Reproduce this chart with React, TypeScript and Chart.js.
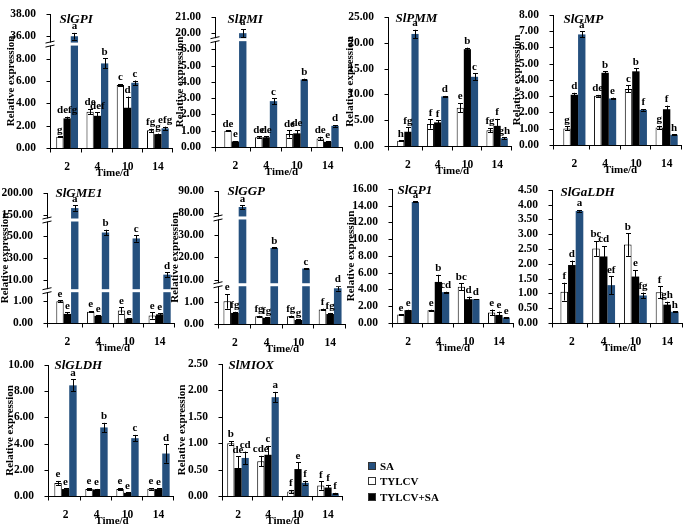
import React, { useEffect, useRef } from "react";
import { Chart, registerables } from "chart.js";
Chart.register(...registerables);

// ---------------- data ----------------
const categories = ["2", "4", "10", "14"];
const seriesLabels = ["TYLCV", "TYLCV+SA", "SA"];
const legendLabels = ["SA", "TYLCV", "TYLCV+SA"];

// SlGPI
const gpiTicks = [[0, 2, 4, 6, 8], [36, 38]];
const gpiTYLCV = [1.0, 3.25, 5.64, 1.58];
const gpiTYLCVSA = [2.65, 2.88, 3.6, 1.24];
const gpiSA = [36.0, 7.57, 5.84, 1.76];
const gpiErrTYLCV = [0.05, 0.25, 0.08, 0.15];
const gpiErrTYLCVSA = [0.15, 0.3, 1.0, 0.05];
const gpiErrSA = [0.3, 0.45, 0.2, 0.15];
const gpiLetTYLCV = ["g", "de", "c", "fg"];
const gpiLetTYLCVSA = ["defg", "def", "d", "g"];
const gpiLetSA = ["a", "b", "c", "efg"];

// SlPMI
const pmiTicks = [[0, 1, 2, 3, 4, 5, 6], [20, 21]];
const pmiTYLCV = [1.0, 0.6, 0.8, 0.53];
const pmiTYLCVSA = [0.34, 0.6, 0.84, 0.32];
const pmiSA = [20.0, 2.82, 4.15, 1.3];
const pmiErrTYLCV = [0.03, 0.05, 0.22, 0.1];
const pmiErrTYLCVSA = [0.02, 0.05, 0.2, 0.02];
const pmiErrSA = [0.25, 0.18, 0.05, 0.05];
const pmiLetTYLCV = ["de", "de", "de", "de"];
const pmiLetTYLCVSA = ["e", "de", "de", "e"];
const pmiLetSA = ["a", "c", "b", "d"];

// SlPMM
const pmmTicks = [[0, 5, 10, 15, 20, 25]];
const pmmTYLCV = [1.0, 4.27, 7.4, 3.06];
const pmmTYLCVSA = [2.76, 4.57, 18.75, 3.9];
const pmmSA = [21.7, 9.6, 13.4, 1.5];
const pmmErrTYLCV = [0.1, 0.9, 0.9, 0.4];
const pmmErrTYLCVSA = [0.85, 0.4, 0.3, 1.35];
const pmmErrSA = [0.8, 0.1, 0.7, 0.2];
const pmmLetTYLCV = ["h", "f", "e", "fg"];
const pmmLetTYLCVSA = ["fg", "f", "b", "f"];
const pmmLetSA = ["a", "d", "c", "gh"];

// SlGMP
const gmpTicks = [[0, 1, 2, 3, 4, 5, 6, 7, 8]];
const gmpTYLCV = [1.02, 3.03, 3.45, 1.08];
const gmpTYLCVSA = [3.09, 4.44, 4.53, 2.2];
const gmpSA = [6.8, 2.86, 2.16, 0.63];
const gmpErrTYLCV = [0.12, 0.05, 0.22, 0.1];
const gmpErrTYLCVSA = [0.12, 0.1, 0.18, 0.22];
const gmpErrSA = [0.18, 0.05, 0.05, 0.02];
const gmpLetTYLCV = ["g", "de", "c", "g"];
const gmpLetTYLCVSA = ["d", "b", "b", "f"];
const gmpLetSA = ["a", "e", "f", "h"];

// SlGME1
const gmeTicks = [[0, 1], [10, 30, 50], [150, 200]];
const gmeTYLCV = [1.0, 0.52, 0.58, 0.35];
const gmeTYLCVSA = [0.42, 0.33, 0.2, 0.4];
const gmeSA = [165, 53.5, 48, 14.6];
const gmeErrTYLCV = [0.05, 0.03, 0.15, 0.15];
const gmeErrTYLCVSA = [0.08, 0.03, 0.02, 0.04];
const gmeErrSA = [6, 2.5, 3, 2];
const gmeLetTYLCV = ["e", "e", "e", "e"];
const gmeLetTYLCVSA = ["e", "e", "e", "e"];
const gmeLetSA = ["a", "b", "c", "d"];

// SlGGP
const ggpTicks = [[0, 1], [10, 20, 30], [80, 90]];
const ggpTYLCV = [1.02, 0.35, 0.35, 0.65];
const ggpTYLCVSA = [0.5, 0.28, 0.18, 0.45];
const ggpSA = [82.7, 24.3, 15.0, 1.61];
const ggpErrTYLCV = [0.33, 0.02, 0.03, 0.04];
const ggpErrTYLCVSA = [0.05, 0.02, 0.03, 0.05];
const ggpErrSA = [0.8, 0.2, 0.1, 0.1];
const ggpLetTYLCV = ["e", "fg", "fg", "f"];
const ggpLetTYLCVSA = ["fg", "fg", "g", "fg"];
const ggpLetSA = ["a", "b", "c", "d"];

// SlGP1
const gp1Ticks = [[0, 2, 4, 6, 8, 10, 12, 14, 16]];
const gp1TYLCV = [1.0, 1.53, 4.33, 1.26];
const gp1TYLCVSA = [1.53, 4.9, 2.84, 0.96];
const gp1SA = [14.45, 3.68, 2.84, 0.65];
const gp1ErrTYLCV = [0.05, 0.05, 0.4, 0.35];
const gp1ErrTYLCVSA = [0.05, 0.85, 0.3, 0.4];
const gp1ErrSA = [0.05, 0.05, 0.02, 0.03];
const gp1LetTYLCV = ["e", "e", "bc", "e"];
const gp1LetTYLCVSA = ["e", "b", "d", "e"];
const gp1LetSA = ["a", "cd", "d", "e"];

// SlGaLDH
const galTicks = [[0, 0.5, 1, 1.5, 2, 2.5, 3, 3.5, 4, 4.5]];
const galTYLCV = [1.06, 2.52, 2.65, 1.04];
const galTYLCVSA = [1.96, 2.25, 1.57, 0.62];
const galSA = [3.79, 1.28, 0.93, 0.38];
const galErrTYLCV = [0.3, 0.25, 0.38, 0.2];
const galErrTYLCVSA = [0.15, 0.35, 0.22, 0.1];
const galErrSA = [0.03, 0.3, 0.1, 0.02];
const galLetTYLCV = ["f", "bc", "b", "f"];
const galLetTYLCVSA = ["d", "cd", "e", "gh"];
const galLetSA = ["a", "ef", "fg", "h"];

// SlGLDH
const gldTicks = [[0, 2, 4, 6, 8, 10]];
const gldTYLCV = [1.0, 0.53, 0.53, 0.55];
const gldTYLCVSA = [0.53, 0.5, 0.24, 0.53];
const gldSA = [8.44, 5.23, 4.41, 3.24];
const gldErrTYLCV = [0.15, 0.08, 0.08, 0.06];
const gldErrTYLCVSA = [0.05, 0.04, 0.03, 0.05];
const gldErrSA = [0.45, 0.35, 0.25, 0.7];
const gldLetTYLCV = ["e", "e", "e", "e"];
const gldLetTYLCVSA = ["e", "e", "e", "e"];
const gldLetSA = ["a", "b", "c", "d"];

// SlMIOX
const mioTicks = [[0, 0.5, 1, 1.5, 2, 2.5]];
const mioTYLCV = [1.0, 0.66, 0.085, 0.2];
const mioTYLCVSA = [0.53, 0.78, 0.51, 0.16];
const mioSA = [0.72, 1.87, 0.25, 0.05];
const mioErrTYLCV = [0.04, 0.1, 0.03, 0.08];
const mioErrTYLCVSA = [0.22, 0.17, 0.13, 0.05];
const mioErrSA = [0.12, 0.1, 0.04, 0.01];
const mioLetTYLCV = ["b", "cde", "f", "f"];
const mioLetTYLCVSA = ["de", "c", "e", "f"];
const mioLetSA = ["cd", "a", "f", "f"];

// ---------------- styles / layout ----------------
const SERIF = "'Liberation Serif', 'Times New Roman', serif";
const seriesFill = ["#ffffff", "#000000", "#25507e"];
const legendFill = ["#25507e", "#ffffff", "#000000"];

type Geo = { axisX: number; gap: number; right: number; top: number; bottom: number; tdx: number; tdy: number; ytx: number; ytitle: boolean; breaks: number[] };

const panels = [
  { name: "SlGPI", ticks: gpiTicks, values: [gpiTYLCV, gpiTYLCVSA, gpiSA], errors: [gpiErrTYLCV, gpiErrTYLCVSA, gpiErrSA], letters: [gpiLetTYLCV, gpiLetTYLCVSA, gpiLetSA],
    geo: { axisX: 50, gap: 2, right: 173, top: 7, bottom: 148, tdx: 9, tdy: 6, ytx: 38, ytitle: true, breaks: [4.65] } },
  { name: "SlPMI", ticks: pmiTicks, values: [pmiTYLCV, pmiTYLCVSA, pmiSA], errors: [pmiErrTYLCV, pmiErrTYLCVSA, pmiErrSA], letters: [pmiLetTYLCV, pmiLetTYLCVSA, pmiLetSA],
    geo: { axisX: 215, gap: 5, right: 343, top: 7, bottom: 147, tdx: 12, tdy: 3, ytx: 34, ytitle: true, breaks: [6.6] } },
  { name: "SlPMM", ticks: pmmTicks, values: [pmmTYLCV, pmmTYLCVSA, pmmSA], errors: [pmmErrTYLCV, pmmErrTYLCVSA, pmmErrSA], letters: [pmmLetTYLCV, pmmLetTYLCVSA, pmmLetSA],
    geo: { axisX: 388, gap: 5, right: 512, top: 7, bottom: 146, tdx: 7, tdy: 2, ytx: 37, ytitle: true, breaks: [] } },
  { name: "SlGMP", ticks: gmpTicks, values: [gmpTYLCV, gmpTYLCVSA, gmpSA], errors: [gmpErrTYLCV, gmpErrTYLCVSA, gmpErrSA], letters: [gmpLetTYLCV, gmpLetTYLCVSA, gmpLetSA],
    geo: { axisX: 553, gap: 6, right: 682, top: 4, bottom: 145, tdx: 10, tdy: 5, ytx: 35, ytitle: true, breaks: [] } },
  { name: "SlGME1", ticks: gmeTicks, values: [gmeTYLCV, gmeTYLCVSA, gmeSA], errors: [gmeErrTYLCV, gmeErrTYLCVSA, gmeErrSA], letters: [gmeLetTYLCV, gmeLetTYLCVSA, gmeLetSA],
    geo: { axisX: 47, gap: 5, right: 175, top: 183, bottom: 323, tdx: 8, tdy: 1, ytx: 41, ytitle: true, breaks: [1.49, 4.75] } },
  { name: "SlGGP", ticks: ggpTicks, values: [ggpTYLCV, ggpTYLCVSA, ggpSA], errors: [ggpErrTYLCV, ggpErrTYLCVSA, ggpErrSA], letters: [ggpLetTYLCV, ggpLetTYLCVSA, ggpLetSA],
    geo: { axisX: 218, gap: 1, right: 346, top: 185, bottom: 324, tdx: 9, tdy: 1, ytx: 42, ytitle: true, breaks: [1.77, 4.78] } },
  { name: "SlGP1", ticks: gp1Ticks, values: [gp1TYLCV, gp1TYLCVSA, gp1SA], errors: [gp1ErrTYLCV, gp1ErrTYLCVSA, gp1ErrSA], letters: [gp1LetTYLCV, gp1LetTYLCVSA, gp1LetSA],
    geo: { axisX: 392, gap: 1, right: 514, top: 183, bottom: 323, tdx: 5, tdy: 2, ytx: 40, ytitle: true, breaks: [] } },
  { name: "SlGaLDH", ticks: galTicks, values: [galTYLCV, galTYLCVSA, galSA], errors: [galErrTYLCV, galErrTYLCVSA, galErrSA], letters: [galLetTYLCV, galLetTYLCVSA, galLetSA],
    geo: { axisX: 552, gap: 4, right: 683, top: 181, bottom: 323, tdx: 8, tdy: 3, ytx: 34, ytitle: false, breaks: [] } },
  { name: "SlGLDH", ticks: gldTicks, values: [gldTYLCV, gldTYLCVSA, gldSA], errors: [gldErrTYLCV, gldErrTYLCVSA, gldErrSA], letters: [gldLetTYLCV, gldLetTYLCVSA, gldLetSA],
    geo: { axisX: 48, gap: 2, right: 174, top: 358, bottom: 496, tdx: 6, tdy: 1, ytx: 37, ytitle: true, breaks: [] } },
  { name: "SlMIOX", ticks: mioTicks, values: [mioTYLCV, mioTYLCVSA, mioSA], errors: [mioErrTYLCV, mioErrTYLCVSA, mioErrSA], letters: [mioLetTYLCV, mioLetTYLCVSA, mioLetSA],
    geo: { axisX: 222, gap: 1, right: 343, top: 358, bottom: 496, tdx: 6, tdy: 2, ytx: 39, ytitle: true, breaks: [] } },
];

// broken-axis mapping: each segment of tick values occupies consecutive tick slots
function makeAxis(segments: number[][]) {
  const tickVals: number[] = [];
  const segs: { t0: number; v0: number; k: number }[] = [];
  let t = 0;
  for (const s of segments) {
    segs.push({ t0: t, v0: s[0], k: s[1] - s[0] });
    tickVals.push(...s);
    t += s.length;
  }
  const segOf = (v: number) => {
    let s = segs[0];
    for (const c of segs) if (v >= c.v0) s = c;
    return s;
  };
  const mapIn = (v: number, s: { t0: number; v0: number; k: number }) => s.t0 + (v - s.v0) / s.k;
  const toT = (v: number) => mapIn(v, segOf(v));
  return { tickVals, toT, segOf, mapIn, max: tickVals.length - 1 };
}

const XH = 32;
const PADTOP = 8;

function Panel({ p }: { p: (typeof panels)[number] }) {
  const ref = useRef<HTMLCanvasElement>(null);
  const g: Geo = p.geo;
  const YW = g.ytx + 9;
  const left = g.axisX - YW;
  const T = g.top - PADTOP;
  const width = g.right - left + 3;
  const height = g.bottom - T + XH;

  useEffect(() => {
    const axis = makeAxis(p.ticks);
    const tickLabels = axis.tickVals.map((v) => v.toFixed(2));
    const tickFont = { family: SERIF, size: 11.5, weight: "bold" as const };
    const titleFont = { family: SERIF, size: 11, weight: "bold" as const };

    const decor = {
      id: "decor",
      afterDatasetsDraw(chart: any) {
        const { ctx, chartArea: ca, scales } = chart;
        const y = scales.y;
        const x0 = Math.round(ca.left - g.gap) + 0.5;
        const yb = Math.round(ca.bottom) + 0.5;
        const line = (a: number, b: number, c: number, d: number) => {
          ctx.beginPath(); ctx.moveTo(a, b); ctx.lineTo(c, d); ctx.stroke();
        };
        ctx.save();
        ctx.strokeStyle = "#000";
        ctx.lineWidth = 1;
        // axes
        line(x0, Math.round(ca.top), x0, yb + 4);
        line(x0, yb, ca.right, yb);
        for (let i = 0; i <= axis.max; i++) {
          const yy = Math.round(y.getPixelForValue(i)) + 0.5;
          line(x0 - 4, yy, x0, yy);
        }
        const w = (ca.right - ca.left) / categories.length;
        for (let i = 1; i <= categories.length; i++) {
          const xx = Math.round(ca.left + i * w) - 0.5;
          line(xx, yb, xx, yb + 4);
        }
        // error bars (mapped within the bar's own axis segment)
        p.values.forEach((vals, si) => {
          const meta = chart.getDatasetMeta(si);
          meta.data.forEach((el: any, i: number) => {
            const v = vals[i];
            const e = p.errors[si][i];
            const seg = axis.segOf(v);
            const yt = y.getPixelForValue(axis.mapIn(v + e, seg));
            const ybt = y.getPixelForValue(axis.mapIn(Math.max(v - e, 0), seg));
            const xc = Math.round(el.x) + 0.5;
            ctx.strokeStyle = "#000";
            line(xc, yt, xc, ybt);
            line(xc - 2.5, Math.round(yt) + 0.5, xc + 2.5, Math.round(yt) + 0.5);
            line(xc - 2.5, Math.round(ybt) + 0.5, xc + 2.5, Math.round(ybt) + 0.5);
          });
        });
        // axis breaks
        g.breaks.forEach((b) => {
          const yy = y.getPixelForValue(b);
          ctx.fillStyle = "#ffffff";
          ctx.fillRect(x0 - 6, yy - 1.5, ca.right - x0 + 6, 3);
          ctx.strokeStyle = "#000";
          line(x0 - 5, yy - 1, x0 + 4, yy - 3);
          line(x0 - 5, yy + 3, x0 + 4, yy + 1);
        });
        // significance letters
        ctx.fillStyle = "#000";
        ctx.font = `bold 11px ${SERIF}`;
        ctx.textAlign = "center";
        ctx.textBaseline = "bottom";
        p.values.forEach((vals, si) => {
          const meta = chart.getDatasetMeta(si);
          meta.data.forEach((el: any, i: number) => {
            const v = vals[i];
            const yt = y.getPixelForValue(axis.mapIn(v + p.errors[si][i], axis.segOf(v)));
            ctx.fillText(p.letters[si][i], el.x, yt - 1);
          });
        });
        // panel title
        ctx.font = `italic bold 13px ${SERIF}`;
        ctx.textAlign = "left";
        ctx.textBaseline = "middle";
        ctx.fillText(p.name, x0 + g.tdx, ca.top + g.tdy);
        ctx.restore();
      },
    };

    const chart = new Chart(ref.current as HTMLCanvasElement, {
      type: "bar",
      data: {
        labels: categories,
        datasets: p.values.map((vals, si) => ({
          label: seriesLabels[si],
          data: vals.map(axis.toT),
          backgroundColor: seriesFill[si],
          borderColor: si === 2 ? "#1d4470" : "#000000",
          borderWidth: si === 0 ? 1 : 0,
          categoryPercentage: 0.72,
          barPercentage: 1,
        })),
      },
      options: {
        animation: false,
        responsive: false,
        devicePixelRatio: 1,
        layout: { padding: { left: 0, right: 3, top: PADTOP, bottom: 0 } },
        plugins: { legend: { display: false }, tooltip: { enabled: false } },
        scales: {
          x: {
            type: "category",
            offset: true,
            grid: { display: false },
            border: { display: false },
            ticks: { font: tickFont, color: "#000", padding: 4, maxRotation: 0, autoSkip: false },
            title: { display: true, text: "Time/d", font: titleFont, color: "#000", padding: 0 },
            afterFit: (s: any) => { s.height = XH; },
          },
          y: {
            min: 0,
            max: axis.max,
            grid: { display: false },
            border: { display: false },
            ticks: {
              stepSize: 1,
              autoSkip: false,
              font: tickFont,
              color: "#000",
              padding: g.gap + 6,
              callback: (v: any) => tickLabels[Math.round(Number(v))] ?? "",
            },
            title: { display: g.ytitle, text: "Relative expression", font: titleFont, color: "#000", padding: { top: 2, bottom: 0 } },
            afterFit: (s: any) => { s.width = YW + g.gap; },
          },
        },
      } as any,
      plugins: [decor],
    });
    return () => chart.destroy();
  }, []);

  return (
    <canvas
      ref={ref}
      width={width}
      height={height}
      style={{ position: "absolute", left, top: T, width, height }}
    />
  );
}

function Legend() {
  const rowTops = [459, 474, 490];
  return (
    <>
      {legendLabels.map((lab, i) => (
        <div key={lab} style={{ position: "absolute", left: 368, top: rowTops[i], height: 14, display: "flex", alignItems: "center", font: `bold 11px ${SERIF}`, color: "#000", whiteSpace: "nowrap" }}>
          <span style={{ display: "inline-block", width: 6, height: 6, background: legendFill[i], border: "1px solid #333", marginRight: 4 }} />
          {lab}
        </div>
      ))}
    </>
  );
}

export default function App() {
  return (
    <div style={{ position: "absolute", left: 0, top: 0, width: 685, height: 529, background: "#fff", overflow: "hidden" }}>
      {panels.map((p) => (
        <Panel key={p.name} p={p} />
      ))}
      <Legend />
    </div>
  );
}
